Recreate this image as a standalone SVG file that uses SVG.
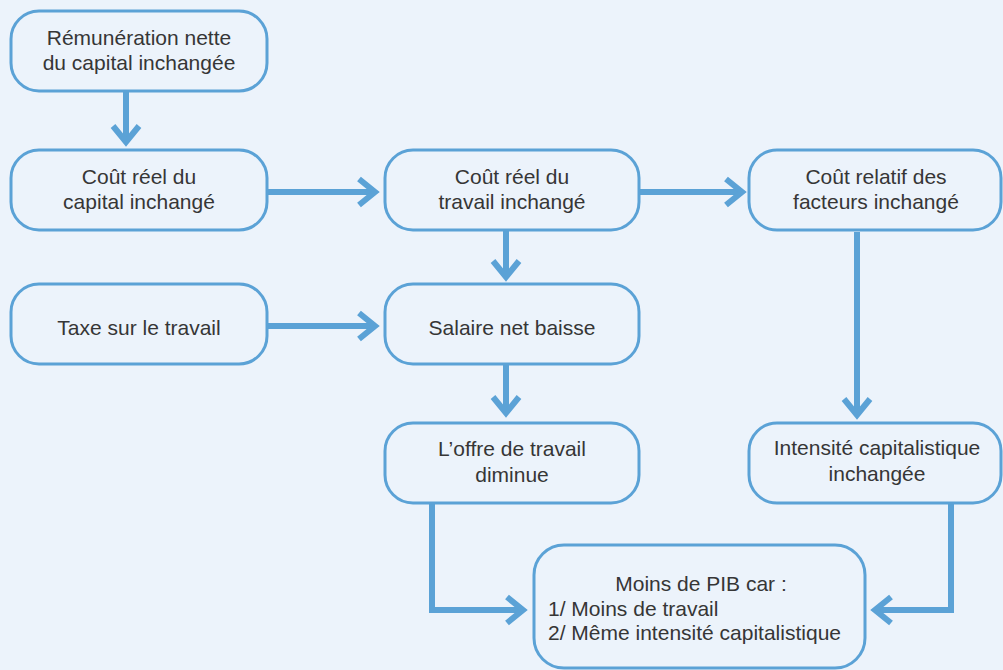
<svg xmlns="http://www.w3.org/2000/svg" width="1003" height="670" viewBox="0 0 1003 670">
<style>
.bg{fill:#ECF3FB}
.box{fill:#ECF3FB;stroke:#5BA2D6;stroke-width:3}
.t{font-family:"Liberation Sans",Arial,sans-serif;font-size:21px;fill:#363636;text-anchor:middle}
.tl{font-family:"Liberation Sans",Arial,sans-serif;font-size:21px;fill:#363636}
.c{fill:none;stroke:#5BA2D6;stroke-width:6;marker-end:url(#arr)}
</style>
<defs>
<marker id="arr" markerUnits="userSpaceOnUse" markerWidth="40" markerHeight="40" refX="0" refY="0" orient="auto" overflow="visible" viewBox="-20 -20 40 40">
<path d="M-16,-13 L0,0 L-16,13" fill="none" stroke="#5BA2D6" stroke-width="6" stroke-linejoin="miter"/>
</marker>
</defs>
<rect class="bg" x="0" y="0" width="1003" height="670"/>
<g id="connectors">
<line class="c" x1="126" y1="92" x2="126" y2="142"/>
<line class="c" x1="268" y1="192" x2="375" y2="192"/>
<line class="c" x1="640" y1="192" x2="742" y2="192"/>
<line class="c" x1="506" y1="231" x2="506" y2="277"/>
<line class="c" x1="268" y1="326" x2="375" y2="326"/>
<line class="c" x1="506" y1="365" x2="506" y2="413"/>
<line class="c" x1="857" y1="232" x2="857" y2="415"/>
<polyline class="c" points="432,504 432,610 523,610"/>
<polyline class="c" points="951,504 951,610 875,610"/>
</g>
<g id="n1"><rect class="box" x="11" y="11" width="256" height="80" rx="28"/>
<text class="t" x="139" y="45">Rémunération nette</text><text class="t" x="139" y="70">du capital inchangée</text></g>
<g id="n2"><rect class="box" x="11" y="150" width="256" height="80" rx="28"/>
<text class="t" x="139" y="184">Coût réel du</text><text class="t" x="139" y="209">capital inchangé</text></g>
<g id="n3"><rect class="box" x="385" y="150" width="254" height="80" rx="28"/>
<text class="t" x="512" y="184">Coût réel du</text><text class="t" x="512" y="209">travail inchangé</text></g>
<g id="n4"><rect class="box" x="749" y="150" width="252" height="80" rx="28"/>
<text class="t" x="876" y="184">Coût relatif des</text><text class="t" x="876" y="209">facteurs inchangé</text></g>
<g id="n5"><rect class="box" x="11" y="284" width="256" height="80" rx="28"/>
<text class="t" x="139" y="335">Taxe sur le travail</text></g>
<g id="n6"><rect class="box" x="385" y="284" width="254" height="80" rx="28"/>
<text class="t" x="512" y="335">Salaire net baisse</text></g>
<g id="n7"><rect class="box" x="385" y="423" width="254" height="80" rx="28"/>
<text class="t" x="512" y="456">L’offre de travail</text><text class="t" x="512" y="482">diminue</text></g>
<g id="n8"><rect class="box" x="749" y="423" width="252" height="80" rx="28"/>
<text class="t" x="877" y="455">Intensité capitalistique</text><text class="t" x="877" y="481">inchangée</text></g>
<g id="n9"><rect class="box" x="534" y="545" width="331" height="123" rx="30"/>
<text class="t" x="701" y="591">Moins de PIB car :</text>
<text class="tl" x="548" y="616">1/ Moins de travail</text>
<text class="tl" x="548" y="640">2/ Même intensité capitalistique</text></g>
</svg>
